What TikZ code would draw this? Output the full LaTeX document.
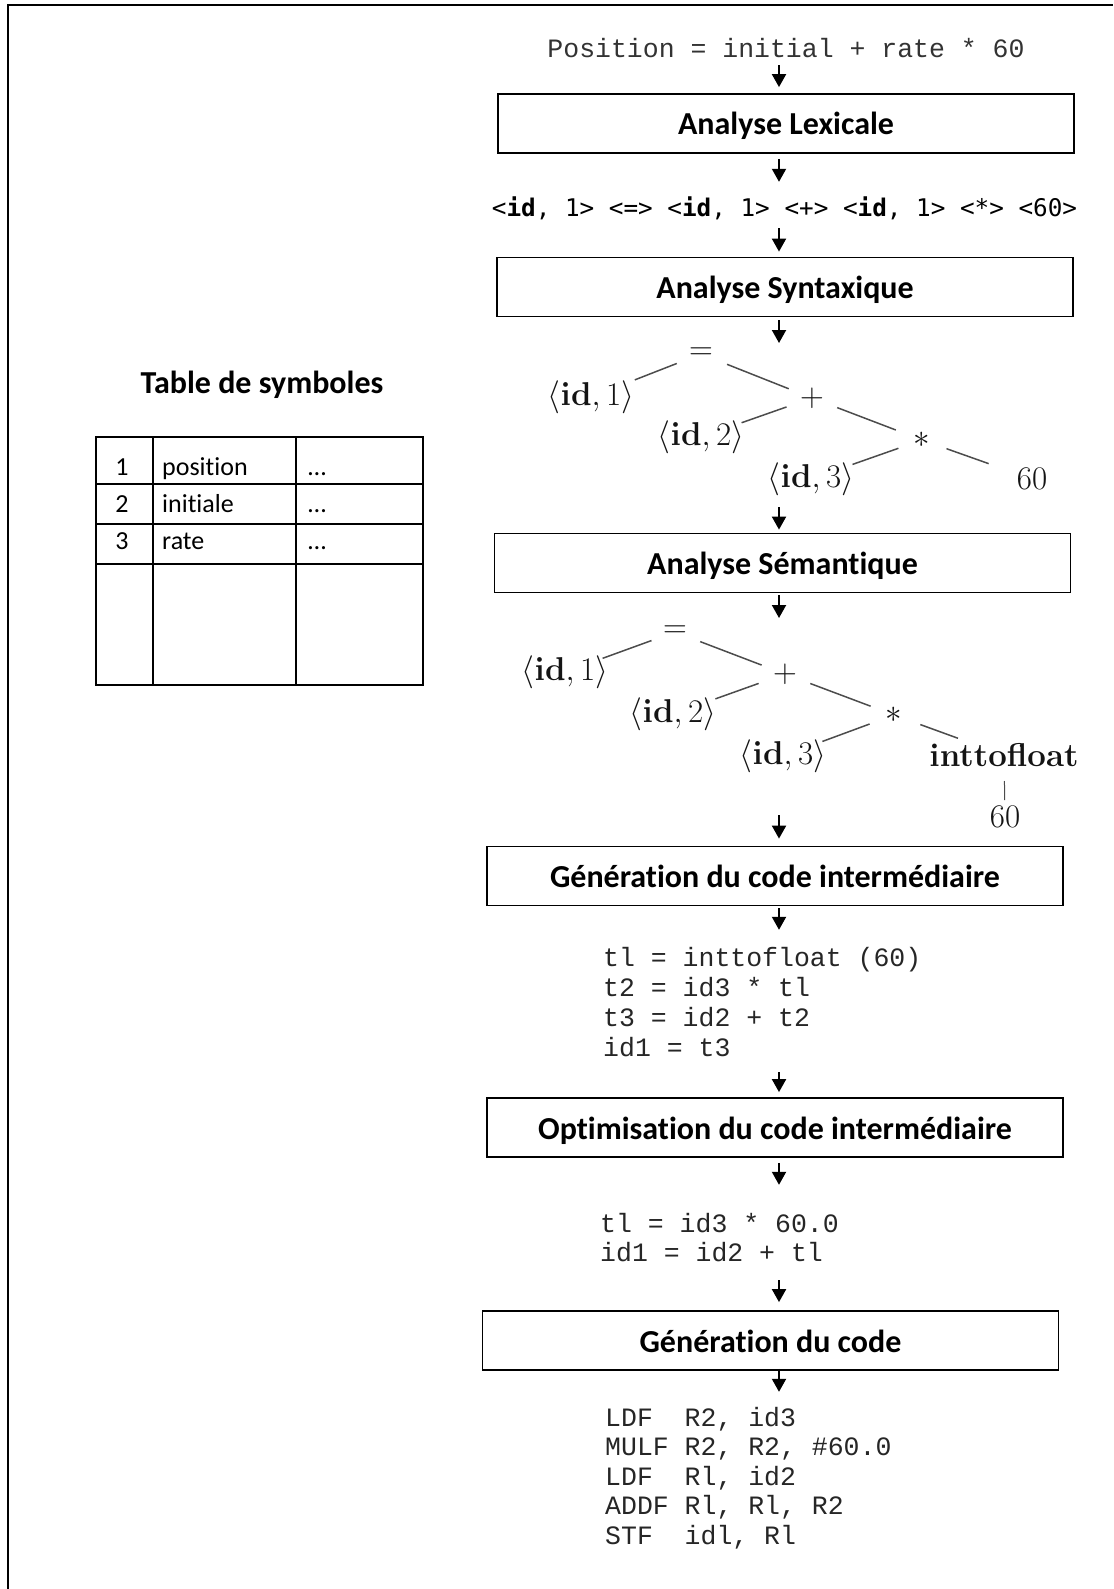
\RequirePackage{fix-cm}
\documentclass[tikz,border=0pt]{standalone}
\usepackage[no-math]{fontspec}
\newfontfamily\carlito[RawFeature={-liga;-clig;-dlig;-calt;-rlig}]{Carlito}
\newfontfamily\courierfont{Liberation Mono}
\newfontfamily\tokfont{DejaVu Sans Mono}
\usetikzlibrary{arrows.meta}

\begin{document}
\begin{tikzpicture}[x=1pt,y=-1pt,
  stage/.style={draw, line width=1.8pt, minimum width=576pt, minimum height=59pt,
    inner sep=0pt, text height=27.2pt, text depth=4.2pt,
    font=\carlito\bfseries\fontsize{32}{38}\selectfont},
  arr/.style={line width=2pt, -{Triangle[width=14pt,length=13pt]}},
  codeline/.style={anchor=base west, inner sep=0pt, text height=20pt, text depth=6pt,
    text=black!85, font=\courierfont\fontsize{26.5}{30}\selectfont},
  tnode/.style={inner sep=0pt, text=black!92, font=\fontsize{33}{40}\selectfont},
  tedge/.style={draw=black!70, line width=1.5pt},
  cell/.style={anchor=base, inner sep=0pt, font=\carlito\fontsize{26}{30}\selectfont},
  cellw/.style={cell, anchor=base west}]
\useasboundingbox (0,0) rectangle (1113,1589);

% page frame
\draw[line width=2pt] (7.8,1589) -- (7.8,5.3) -- (1113,5.3);

% vertical line of the arrows
\coordinate (spine) at (779,0);

% ---------- pipeline ----------
\node[anchor=base, inner sep=0pt, text depth=7pt, text=black!80,
      font=\courierfont\fontsize{26.5}{30}\selectfont] (pos) at (786,58)
      {Position = initial + rate * 60};
\node[stage] (box1) at (786,123.5) {Analyse Lexicale};
\node[anchor=base, inner sep=0pt, text height=35pt, text depth=11pt,
      font=\tokfont\fontsize{24.3}{28}\selectfont] (tok) at (784.5,217)
      {<\textbf{id}, 1> <=> <\textbf{id}, 1> <+> <\textbf{id}, 1> <*> <60>};
\node[stage] (box2) at (785,287) {Analyse Syntaxique};
\node[stage] (box3) at (782.5,563) {Analyse Sémant\kern0pt ique};
\node[stage] (box4) at (775,876) {Générat\kern0pt ion du code intermédiaire};
\node[stage] (box5) at (775,1127.5) {Opt\kern0pt imisat\kern0pt ion du code intermédiaire};
\node[stage] (box6) at (770.5,1340.5) {Générat\kern0pt ion du code};

% syntax tree
\node[tnode] (eq1) at (701,354) {$=$};
\node[tnode] (id11) at (591,397) {$\langle\mathbf{id},1\rangle$};
\node[tnode] (plus1) at (812,398) {$+$};
\node[tnode] (id12) at (701,437) {$\langle\mathbf{id},2\rangle$};
\node[tnode] (star1) at (922,440) {$*$};
\node[tnode] (id13) at (811,479) {$\langle\mathbf{id},3\rangle$};
\node[tnode] (n601) at (1032,479) {60};
\draw[tedge, shorten <=47pt, shorten >=26pt] (id11.center) -- (eq1.center);
\draw[tedge, shorten <=28pt, shorten >=25pt] (eq1.center) -- (plus1.center);
\draw[tedge, shorten <=27pt, shorten >=43pt] (plus1.center) -- (id12.center);
\draw[tedge, shorten <=27pt, shorten >=28pt] (plus1.center) -- (star1.center);
\draw[tedge, shorten <=25pt, shorten >=44pt] (star1.center) -- (id13.center);
\draw[tedge, shorten <=26pt, shorten >=46pt] (star1.center) -- (n601.center);

% annotated tree
\node[tnode] (eq2) at (675,632) {$=$};
\node[tnode] (id21) at (565,672) {$\langle\mathbf{id},1\rangle$};
\node[tnode] (plus2) at (785,674) {$+$};
\node[tnode] (id22) at (673,714) {$\langle\mathbf{id},2\rangle$};
\node[tnode] (star2) at (894,715) {$*$};
\node[tnode] (id23) at (783,756) {$\langle\mathbf{id},3\rangle$};
\node[tnode] (itf) at (1004,755) {\textbf{inttofloat}};
\node[tnode] (n602) at (1005,817) {60};
\draw[tedge, shorten <=40pt, shorten >=25pt] (id21.center) -- (eq2.center);
\draw[tedge, shorten <=27pt, shorten >=25pt] (eq2.center) -- (plus2.center);
\draw[tedge, shorten <=28pt, shorten >=45pt] (plus2.center) -- (id22.center);
\draw[tedge, shorten <=27pt, shorten >=25pt] (plus2.center) -- (star2.center);
\draw[tedge, shorten <=26pt, shorten >=42pt] (star2.center) -- (id23.center);
\draw[tedge, shorten <=28pt, shorten >=49pt] (star2.center) -- (itf.center);
\draw[tedge, line width=1pt, shorten <=26pt, shorten >=17pt] (itf.center) -- (n602.center);

% intermediate code
\node[codeline] (c1a) at (603,966) {tl = inttofloat (60)};
\node[codeline] (c1b) at (603,996) {t2 = id3 * tl};
\node[codeline] (c1c) at (603,1026) {t3 = id2 + t2};
\node[codeline] (c1d) at (603,1056) {id1 = t3};

% optimised code
\node[codeline] (c2a) at (600,1232) {tl = id3 * 60.0};
\node[codeline] (c2b) at (600,1261) {id1 = id2 + tl};

% target code
\node[codeline] (d1) at (605,1426) {LDF~~R2, id3};
\node[codeline] (d2) at (605,1455.5) {MULF R2, R2, \#60.0};
\node[codeline] (d3) at (605,1485) {LDF~~Rl, id2};
\node[codeline] (d4) at (605,1514.5) {ADDF Rl, Rl, R2};
\node[codeline] (d5) at (605,1544) {STF~~idl, Rl};

% tree entry / exit points on the arrow line
\coordinate (t1in) at (779,343);
\coordinate (t1out) at (779,507);
\coordinate (t2in) at (779,618);
\coordinate (t2out) at (779,815);

% arrows
\draw[arr, shorten >=6pt] (pos.south -| spine) -- (box1.north -| spine);
\draw[arr, shorten <=5pt] (box1.south -| spine) -- (tok.north -| spine);
\draw[arr, shorten >=5pt] (tok.south -| spine) -- (box2.north -| spine);
\draw[arr, shorten <=3pt] (box2.south -| spine) -- (t1in);
\draw[arr, shorten >=3pt] (t1out) -- (box3.north -| spine);
\draw[arr, shorten <=2pt] (box3.south -| spine) -- (t2in);
\draw[arr, shorten >=7pt] (t2out) -- (box4.north -| spine);
\draw[arr, shorten <=2pt, shorten >=16pt] (box4.south -| spine) -- (c1a.north -| spine);
\draw[arr, shorten <=10pt, shorten >=5pt] (c1d.south -| spine) -- (box5.north -| spine);
\draw[arr, shorten <=5pt, shorten >=27pt] (box5.south -| spine) -- (c2a.north -| spine);
\draw[arr, shorten <=13pt, shorten >=8pt] (c2b.south -| spine) -- (box6.north -| spine);
\draw[arr, shorten <=-2pt, shorten >=14pt] (box6.south -| spine) -- (d1.north -| spine);

% ---------- symbol table ----------
\node[anchor=base, inner sep=0pt, font=\carlito\bfseries\fontsize{32}{38}\selectfont]
      (ttitle) at (262,393) {Table de symboles};
\draw[line width=2pt] (96,437) rectangle (423,685);
\draw[line width=1.7pt] (96,484) -- (423,484) (96,524) -- (423,524) (96,564) -- (423,564);
\draw[line width=1.7pt] (153,437) -- (153,685) (296,437) -- (296,685);
\node[cell] (k1) at (122,475) {1};
\node[cellw] (v1) at (162,475) {posit\kern0pt ion};
\node[cellw] (e1) at (308,475) {…};
\node[cell] (k2) at (122,512) {2};
\node[cellw] (v2) at (162,512) {init\kern0pt iale};
\node[cellw] (e2) at (308,512) {…};
\node[cell] (k3) at (122,549) {3};
\node[cellw] (v3) at (162,549) {rate};
\node[cellw] (e3) at (308,549) {…};
\end{tikzpicture}
\end{document}
